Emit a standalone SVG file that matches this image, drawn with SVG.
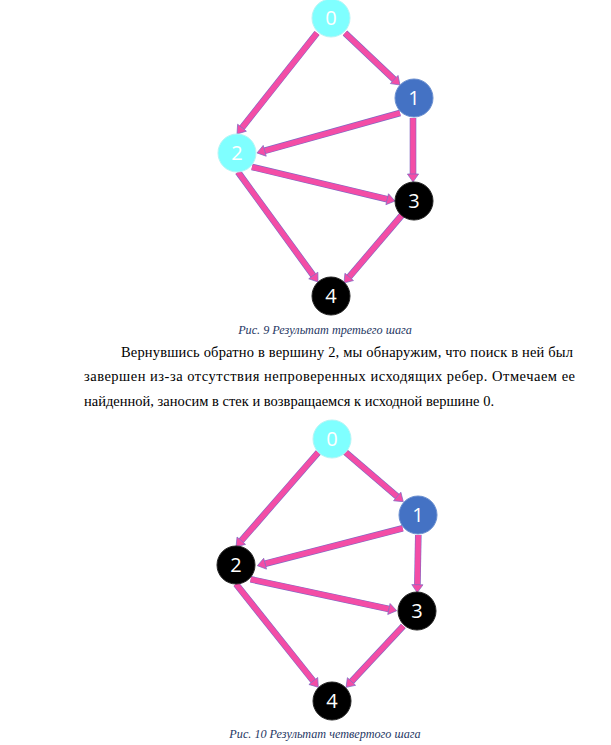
<svg xmlns="http://www.w3.org/2000/svg" width="611" height="745" viewBox="0 0 611 745">
<style>
.bg{fill:#ffffff}
.edge-o{fill:none;stroke:#8068C4;stroke-width:6.6}
.edge{fill:none;stroke:#F34DA6;stroke-width:5.4}
.cyan{fill:#7FFFFF;stroke:#B5F5F5;stroke-width:1}
.blue{fill:#4472C4;stroke:#6A8FD0;stroke-width:1}
.black{fill:#000000;stroke:#222;stroke-width:1}
.lbl{font-family:"Open Sans","Noto Sans","Liberation Sans",sans-serif;font-size:20px;fill:#ffffff;text-anchor:middle}
.para{font-family:"Liberation Serif","Times New Roman",serif;font-size:14.5px;fill:#000}
.cap{font-family:"Liberation Serif","Times New Roman",serif;font-size:12.2px;font-style:italic;fill:#1F3864;text-anchor:middle}
</style>
<defs>
<marker id="ah" markerUnits="userSpaceOnUse" viewBox="0 -6.5 9 13" refX="0" refY="0" markerWidth="9" markerHeight="13" orient="auto" overflow="visible">
<path d="M0,-5.6 L8,0 L0,5.6 z" fill="#F34DA6" stroke="#8068C4" stroke-width="0.7"/>
</marker>
</defs>
<rect class="bg" x="0" y="0" width="611" height="745"/>

<g id="connectors1">
<g id="e1-01"><path class="edge-o" d="M345,33 L394.2,79.5"/><path class="edge" d="M345,33 L394.2,79.5" marker-end="url(#ah)"/></g>
<g id="e1-02"><path class="edge-o" d="M317,33 L242,127.7"/><path class="edge" d="M317,33 L242,127.7" marker-end="url(#ah)"/></g>
<g id="e1-12"><path class="edge-o" d="M400,113 L264.7,150.8"/><path class="edge" d="M400,113 L264.7,150.8" marker-end="url(#ah)"/></g>
<g id="e1-13"><path class="edge-o" d="M413,118 L413,174"/><path class="edge" d="M413,118 L413,174" marker-end="url(#ah)"/></g>
<g id="e1-23"><path class="edge-o" d="M252,167 L387.2,199.2"/><path class="edge" d="M252,167 L387.2,199.2" marker-end="url(#ah)"/></g>
<g id="e1-24"><path class="edge-o" d="M238,172 L313.3,275.5"/><path class="edge" d="M238,172 L313.3,275.5" marker-end="url(#ah)"/></g>
<g id="e1-34"><path class="edge-o" d="M402,215 L349.2,276.9"/><path class="edge" d="M402,215 L349.2,276.9" marker-end="url(#ah)"/></g>
</g>

<g id="d1-n0"><circle class="cyan" cx="331" cy="18" r="19"/><text class="lbl" x="331" y="25">0</text></g>
<g id="d1-n1"><circle class="blue" cx="414" cy="98" r="19"/><text class="lbl" x="414" y="105">1</text></g>
<g id="d1-n2"><circle class="cyan" cx="237" cy="153" r="19"/><text class="lbl" x="237" y="160">2</text></g>
<g id="d1-n3"><circle class="black" cx="414" cy="201" r="19"/><text class="lbl" x="414" y="208">3</text></g>
<g id="d1-n4"><circle class="black" cx="331" cy="296" r="19"/><text class="lbl" x="331" y="303">4</text></g>

<text class="cap" x="325" y="334">Рис. 9 Результат третьего шага</text>

<text class="para" x="121" y="356.5" textLength="452" lengthAdjust="spacing">Вернувшись обратно в вершину 2, мы обнаружим, что поиск в ней был</text>
<text class="para" x="84" y="381" textLength="491" lengthAdjust="spacing">завершен из-за отсутствия непроверенных исходящих ребер. Отмечаем ее</text>
<text class="para" x="84" y="405.5">найденной, заносим в стек и возвращаемся к исходной вершине 0.</text>

<g id="connectors2">
<g id="e2-01"><path class="edge-o" d="M345,451.7 L397.2,496.5"/><path class="edge" d="M345,451.7 L397.2,496.5" marker-end="url(#ah)"/></g>
<g id="e2-02"><path class="edge-o" d="M318.3,452.3 L241.3,540.7"/><path class="edge" d="M318.3,452.3 L241.3,540.7" marker-end="url(#ah)"/></g>
<g id="e2-12"><path class="edge-o" d="M402.7,528.3 L265.1,563.7"/><path class="edge" d="M402.7,528.3 L265.1,563.7" marker-end="url(#ah)"/></g>
<g id="e2-13"><path class="edge-o" d="M418.3,535 L417.4,584.7"/><path class="edge" d="M418.3,535 L417.4,584.7" marker-end="url(#ah)"/></g>
<g id="e2-23"><path class="edge-o" d="M250.7,579.3 L388.9,609"/><path class="edge" d="M250.7,579.3 L388.9,609" marker-end="url(#ah)"/></g>
<g id="e2-24"><path class="edge-o" d="M236,584 L313.3,681"/><path class="edge" d="M236,584 L313.3,681" marker-end="url(#ah)"/></g>
<g id="e2-34"><path class="edge-o" d="M403.3,626 L351.5,681.5"/><path class="edge" d="M403.3,626 L351.5,681.5" marker-end="url(#ah)"/></g>
</g>

<g id="d2-n0"><circle class="cyan" cx="332" cy="439" r="19"/><text class="lbl" x="332" y="446">0</text></g>
<g id="d2-n1"><circle class="blue" cx="418" cy="515" r="19"/><text class="lbl" x="418" y="522">1</text></g>
<g id="d2-n2"><circle class="black" cx="236" cy="565" r="19"/><text class="lbl" x="236" y="572">2</text></g>
<g id="d2-n3"><circle class="black" cx="417" cy="611" r="19"/><text class="lbl" x="417" y="618">3</text></g>
<g id="d2-n4"><circle class="black" cx="332" cy="701" r="19"/><text class="lbl" x="332" y="708">4</text></g>

<text class="cap" x="325" y="738">Рис. 10 Результат четвертого шага</text>
</svg>
